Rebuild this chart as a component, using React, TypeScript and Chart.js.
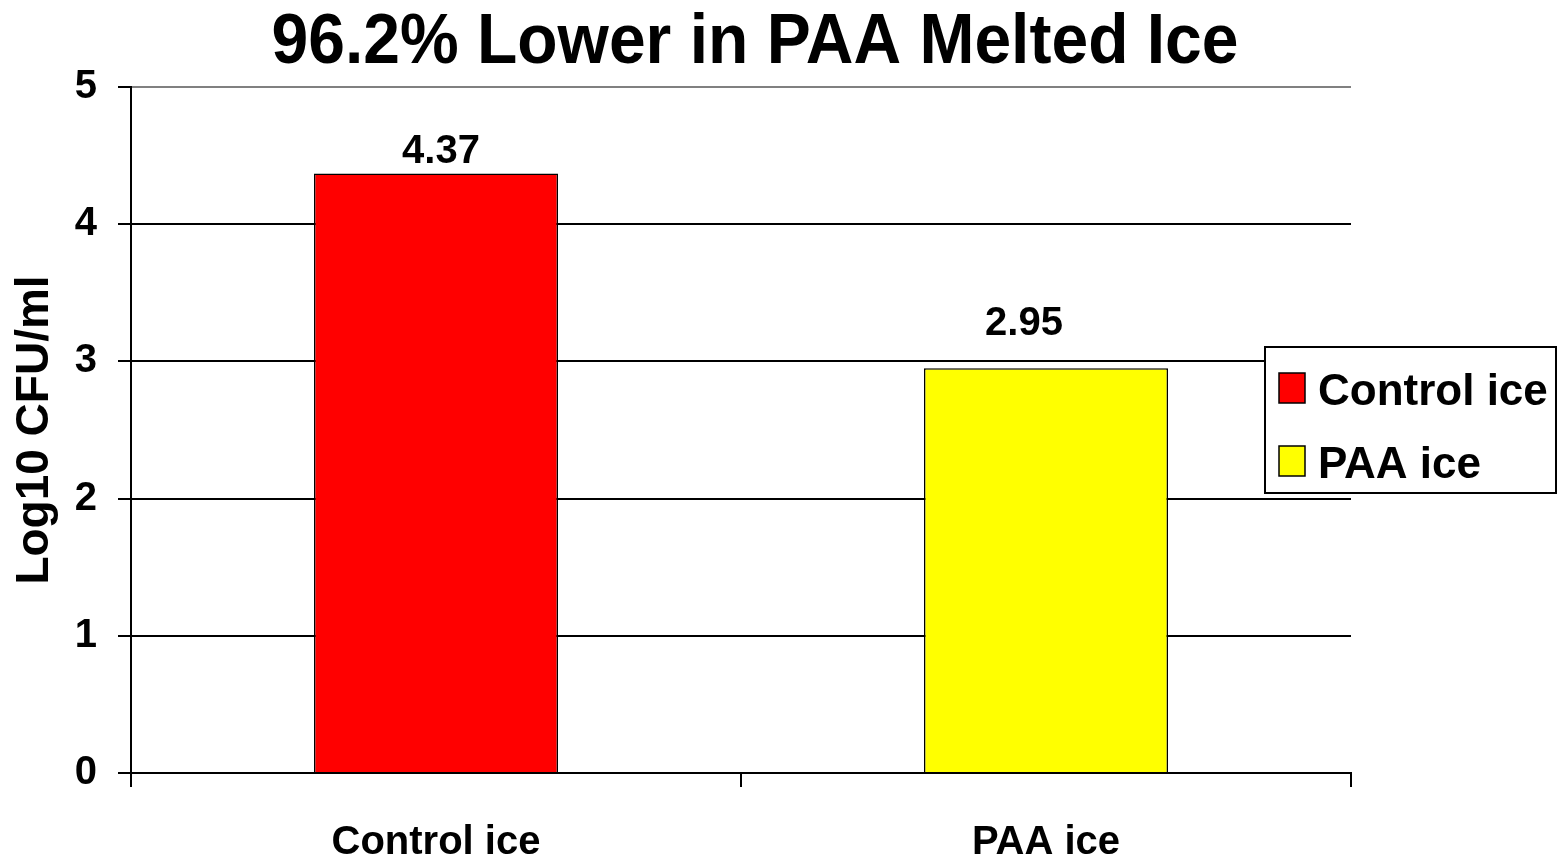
import React, { useEffect, useRef } from "react";
import { Chart, registerables } from "chart.js";

Chart.register(...registerables);

const titleText = "96.2% Lower in PAA Melted Ice";
const categories = ["Control ice", "PAA ice"];
const values = [4.37, 2.95];
const barColors = ["#FF0000", "#FFFF00"];
const yTicks = [0, 1, 2, 3, 4, 5];
const yTitle = "Log10 CFU/ml";
const labelOffsets = [
  { dx: 5, dy: 10 },
  { dx: -22, dy: 33 },
];

const FONT = "'Liberation Sans', Arial, sans-serif";

const titlePlugin = {
  id: "customTitle",
  afterDraw(chart: any) {
    const ctx = chart.ctx;
    ctx.save();
    ctx.font = `bold 66px ${FONT}`;
    ctx.fillStyle = "#000";
    ctx.textAlign = "center";
    ctx.textBaseline = "alphabetic";
    ctx.translate(755, 63);
    ctx.scale(1, 1.08);
    ctx.fillText(titleText, 0, 0);
    ctx.restore();
  },
};

const valueLabelPlugin = {
  id: "valueLabels",
  afterDatasetsDraw(chart: any) {
    const ctx = chart.ctx;
    const meta = chart.getDatasetMeta(0);
    ctx.save();
    ctx.font = `bold 40px ${FONT}`;
    ctx.fillStyle = "#000";
    ctx.textAlign = "center";
    ctx.textBaseline = "alphabetic";
    meta.data.forEach((bar: any, i: number) => {
      const off = labelOffsets[i] || { dx: 0, dy: 8 };
      ctx.fillText(values[i].toFixed(2), bar.x + off.dx, bar.y - off.dy);
    });
    ctx.restore();
  },
};

const legendPlugin = {
  id: "boxLegend",
  afterDraw(chart: any) {
    const ctx = chart.ctx;
    const x0 = 1265, y0 = 347, w = 291, h = 146;
    ctx.save();
    ctx.fillStyle = "#fff";
    ctx.fillRect(x0, y0, w, h);
    ctx.lineWidth = 2;
    ctx.strokeStyle = "#000";
    ctx.strokeRect(x0, y0, w, h);
    ctx.font = `bold 44px ${FONT}`;
    ctx.textAlign = "left";
    ctx.textBaseline = "alphabetic";
    categories.forEach((c, i) => {
      const sy = 373 + i * 73;
      ctx.fillStyle = barColors[i];
      ctx.fillRect(1279, sy, 26, 30);
      ctx.lineWidth = 1.5;
      ctx.strokeStyle = "#000";
      ctx.strokeRect(1279, sy, 26, 30);
      ctx.fillStyle = "#000";
      ctx.fillText(c, 1318, sy + 32);
    });
    ctx.restore();
  },
};

export default function App() {
  const ref = useRef<HTMLCanvasElement | null>(null);
  useEffect(() => {
    if (!ref.current) return;
    const chart = new Chart(ref.current, {
      type: "bar",
      data: {
        labels: categories,
        datasets: [
          {
            label: "Log10 CFU/ml",
            data: values,
            backgroundColor: barColors,
            borderColor: "#000",
            borderWidth: 1.5,
            barPercentage: 0.4,
            categoryPercentage: 1,
          },
        ],
      },
      options: {
        responsive: false,
        animation: false,
        layout: { padding: { left: 0, right: 206, top: 87, bottom: 0 } },
        plugins: {
          legend: { display: false },
          tooltip: { enabled: false },
          title: { display: false },
        },
        scales: {
          x: {
            offset: true,
            grid: {
              offset: true,
              drawOnChartArea: true,
              color: (c: any) => (c.index === 2 ? "#808080" : "rgba(0,0,0,0)"),
              tickColor: "#000",
              tickLength: 14,
              lineWidth: 2,
            },
            border: { color: "#000", width: 2 },
            ticks: {
              color: "#000",
              font: { family: FONT, size: 40, weight: "bold" },
              padding: 32,
              maxRotation: 0,
            },
            afterFit: (s: any) => {
              s.height = 89;
            },
          },
          y: {
            min: 0,
            max: 5,
            afterBuildTicks: (s: any) => {
              s.ticks = yTicks.map((v) => ({ value: v }));
            },
            grid: {
              color: (c: any) => (c.tick && c.tick.value === 5 ? "#808080" : "#000"),
              tickColor: "#000",
              tickLength: 13,
              lineWidth: 2,
            },
            border: { color: "#000", width: 2 },
            ticks: {
              color: "#000",
              font: { family: FONT, size: 40, weight: "bold" },
              padding: 21,
            },
            title: {
              display: true,
              text: yTitle,
              color: "#000",
              font: { family: FONT, size: 46, weight: "bold", lineHeight: 1.2 },
              padding: { top: 8, bottom: 0 },
            },
            afterFit: (s: any) => {
              s.width = 131;
            },
          },
        },
      },
      plugins: [valueLabelPlugin, legendPlugin, titlePlugin],
    });
    return () => chart.destroy();
  }, []);
  return (
    <div style={{ position: "absolute", left: 0, top: 0, width: 1557, height: 862, background: "#fff" }}>
      <canvas ref={ref} width={1557} height={862} style={{ display: "block" }} />
    </div>
  );
}
